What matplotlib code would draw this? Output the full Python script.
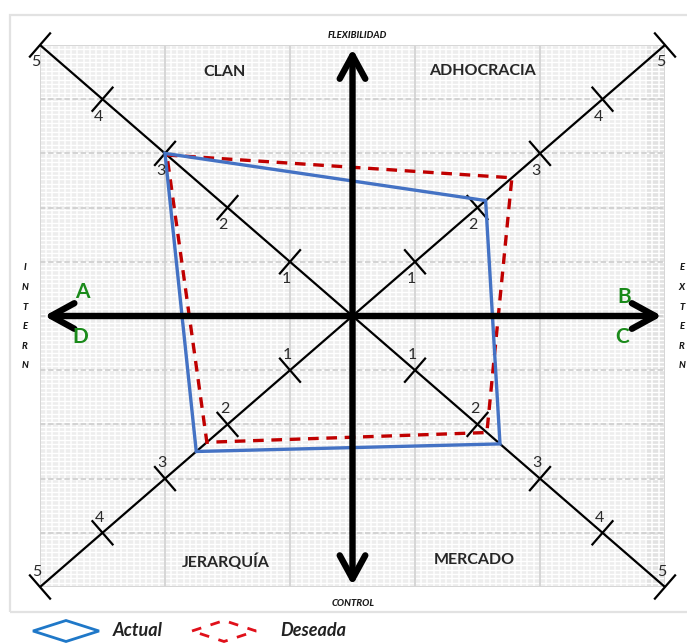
import matplotlib
matplotlib.use('Agg')
import matplotlib.pyplot as plt
import numpy as np
from matplotlib.patches import Polygon, Rectangle

# ---------------- data ----------------
quadrants = ['CLAN', 'ADHOCRACIA', 'MERCADO', 'JERARQUÍA']
actual = [3.0, 2.13, 2.36, 2.5]
deseada = [2.97, 2.55, 2.15, 2.33]
tick_values = [1, 2, 3, 4, 5]
series_names = ['Actual', 'Deseada']
axis_top = 'FLEXIBILIDAD'
axis_bottom = 'CONTROL'
axis_left = 'INTERN'
axis_right = 'EXTERN'
corner_letters = ['A', 'B', 'C', 'D']

# ---------------- layout ----------------
W, H = 687, 644
fig = plt.figure(figsize=(W / 100, H / 100), dpi=100)
fig.patch.set_facecolor('white')


def fx(x):
    return x / W


def fy(y):
    return 1 - y / H


# outer frame
fig.add_artist(Rectangle((fx(10), fy(612)), fx(690) - fx(10), fy(15) - fy(612),
                         transform=fig.transFigure, fill=False,
                         edgecolor='#e2e2e2', lw=1.6))

ax = fig.add_axes([fx(40), fy(587), 625 / W, 542 / H])
ax.set_xlim(-5, 5)
ax.set_ylim(-5, 5)
ax.set_facecolor('#ededed')
for s in ax.spines.values():
    s.set_visible(False)
ax.set_xticks([])
ax.set_yticks([])

# darker strip on the right
ax.axvspan(4.68, 5, color='#e2e2e2', zorder=0.2, lw=0)

# fine dotted pattern (white minor grid)
ax.vlines(np.arange(-5, 5.001, 0.1), -5, 5, color='white', lw=1.1, zorder=0.5)
ax.hlines(np.arange(-5, 5.001, 0.08), -5, 5, color='white', lw=1.0, zorder=0.5)

# major grid
ax.vlines([-5, -3, -1, 1, 3, 5], -5, 5, color='#d6d6d6', lw=1.4, zorder=1)
ax.hlines([-5, 5], -5, 5, color='#d6d6d6', lw=1.4, zorder=1)
ax.hlines(np.arange(-4, 5, 1), -5, 5, color='#d0d0d0', lw=1.3,
          linestyles=(0, (3, 1.5)), zorder=1)

# pixel scale of the axes
sx = 625 / 10.0
sy = 542 / 10.0

dirs = [(-1, 1), (1, 1), (1, -1), (-1, -1)]

# diagonals with ticks
for (dx, dy) in [(-1, 1), (1, 1)]:
    ax.plot([-5 * dx, 5 * dx], [-5 * dy, 5 * dy], color='black', lw=1.6,
            zorder=2, solid_capstyle='butt')
L = 16.5
for (dx, dy) in dirs:
    px, py = dx * sx, dy * sy
    n = np.hypot(px, py)
    perp = np.array([-py / n, px / n])
    tdx, tdy = perp[0] * L / sx, perp[1] * L / sy
    for v in tick_values:
        cx, cy = dx * v, dy * v
        ax.plot([cx - tdx, cx + tdx], [cy - tdy, cy + tdy], color='black',
                lw=1.6, zorder=2, clip_on=False, solid_capstyle='butt')
        off = (-3, -12.5) if dy > 0 else (-2, 11)
        ax.annotate(str(v), (cx, cy), xytext=off, textcoords='offset points',
                    ha='center', va='center', fontsize=11.5, color='#2a2a2a',
                    family='Lato', zorder=6)

# series polygons
act_pts = [(d[0] * v, d[1] * v) for d, v in zip(dirs, actual)]
des_pts = [(d[0] * v, d[1] * v) for d, v in zip(dirs, deseada)]
ax.add_patch(Polygon(des_pts, closed=True, fill=False, edgecolor='#C00000',
                     lw=2.4, ls=(0, (3.2, 2.3)), zorder=3, joinstyle='miter'))
ax.add_patch(Polygon(act_pts, closed=True, fill=False, edgecolor='#4472C4',
                     lw=2.4, zorder=3.5, joinstyle='miter'))

# main axes arrows
astyle = '<->,head_length=0.42,head_width=0.23'
for xy, xyt in [((4.95, 0), (-4.93, 0)), ((0, 4.93), (0, -4.97))]:
    ax.annotate('', xy=xy, xytext=xyt,
                arrowprops=dict(arrowstyle=astyle, lw=4.6, color='black',
                                shrinkA=0, shrinkB=0, mutation_scale=40,
                                joinstyle='round', capstyle='round'),
                zorder=5)

# quadrant labels
qpos = [(225, 72), (482, 71), (474, 560), (226, 562)]
for name, (x, y) in zip(quadrants, qpos):
    fig.text(fx(x), fy(y), name, ha='center', va='center', fontsize=11.5,
             fontweight='bold', family='Lato', color='#262626')

# corner letters
lpos = [(82, 292), (624, 297), (622, 337), (80, 337)]
for name, (x, y) in zip(corner_letters, lpos):
    fig.text(fx(x), fy(y), name, ha='center', va='center', fontsize=15,
             fontweight='bold', family='Lato', color='#1a8a1a')

# axis titles
tkw = dict(ha='center', va='center', fontsize=6.8, fontweight='black',
           fontstyle='italic', family='Lato', color='#1a1a1a')
fig.text(fx(357), fy(36), axis_top, **tkw)
fig.text(fx(353), fy(604), axis_bottom, **tkw)
for i, ch in enumerate(axis_left):
    fig.text(fx(25), fy(268 + i * 19.6), ch, **tkw)
for i, ch in enumerate(axis_right):
    fig.text(fx(682), fy(268 + i * 19.6), ch, **tkw)

# legend
lax = fig.add_axes([0, 0, 1, fy(614)])
lax.set_xlim(0, W)
lax.set_ylim(644, 614)
lax.axis('off')
lc = 631


def diamond(cx, hw, hh):
    return [(cx - hw, lc), (cx, lc - hh), (cx + hw, lc), (cx, lc + hh)]


lax.add_patch(Polygon(diamond(66, 33, 10.5), closed=True, fill=False,
                      edgecolor='#1F78C8', lw=2.0))
lax.add_patch(Polygon(diamond(224, 32, 10.5), closed=True, fill=False,
                      edgecolor='#E0101A', lw=2.0, ls=(0, (3.5, 3.5))))
lax.text(113, lc, series_names[0], ha='left', va='center', fontsize=13,
         fontweight='bold', fontstyle='italic', family='Lato', color='#222222')
lax.text(280, lc, series_names[1], ha='left', va='center', fontsize=13,
         fontweight='bold', fontstyle='italic', family='Lato', color='#222222')

fig.savefig('out.png', dpi=100)
